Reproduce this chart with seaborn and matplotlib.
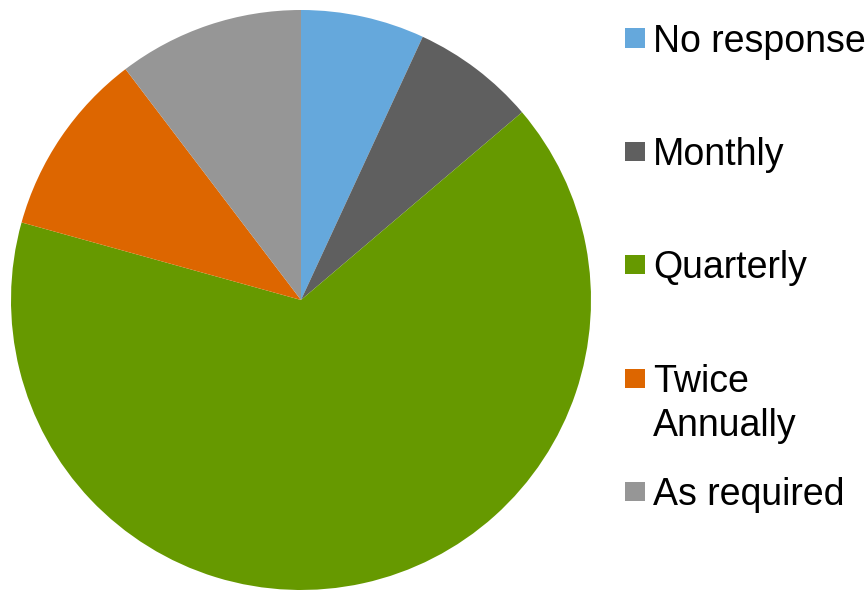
import matplotlib
matplotlib.use('Agg')
import matplotlib.pyplot as plt
import seaborn as sns
from matplotlib.patches import Rectangle

sns.set_theme(style='white')
plt.rcParams['font.family'] = ['Liberation Sans', 'DejaVu Sans']

# data (counts of responses)
categories = ['No response', 'Monthly', 'Quarterly', 'Twice\nAnnually', 'As required']
counts = [2, 2, 19, 3, 3]
colors = ['#65A8DC', '#5F5F5F', '#669900', '#DD6600', '#969696']

W, H = 867, 590
fig = plt.figure(figsize=(W / 100, H / 100), dpi=100)

# pie: centre (301, 300) px, radius 290 px
cx, cy, r = 301, 300, 290
ax = fig.add_axes([(cx - r) / W, (H - cy - r) / H, 2 * r / W, 2 * r / H])
ax.pie(counts, colors=colors, startangle=90, counterclock=False,
       wedgeprops={'linewidth': 0})
ax.set_xlim(-1, 1)
ax.set_ylim(-1, 1)
ax.set_aspect('equal')
ax.axis('off')

# legend drawn by hand (first-line baseline in px from top)
baselines = [51.5, 165, 278, 392, 505]
line_gap = 43.5
for label, col, base in zip(categories, colors, baselines):
    cap_mid = base - 13.5
    fig.patches.append(Rectangle((625 / W, 1 - (cap_mid + 9.5) / H), 20 / W, 19 / H,
                                 transform=fig.transFigure, facecolor=col,
                                 edgecolor='none'))
    for i, line in enumerate(label.split('\n')):
        fig.text(653 / W, 1 - (base + i * line_gap) / H, line, fontsize=27,
                 color='black', va='baseline', ha='left')

fig.savefig('out.png', dpi=100)
